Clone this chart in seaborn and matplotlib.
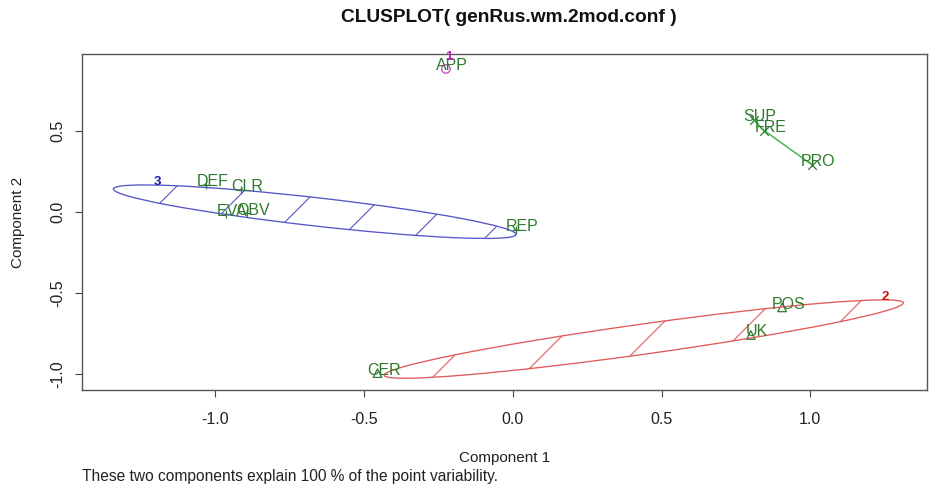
import numpy as np
import pandas as pd
import seaborn as sns
import matplotlib.pyplot as plt
from matplotlib.patches import Ellipse

labels = ["APP", "SUP", "FRE", "PRO", "DEF", "CLR", "EVA", "OBV", "REP", "CER", "UK", "POS"]
comp1 = [-0.225, 0.81, 0.845, 1.005, -1.03, -0.915, -0.965, -0.895, 0.01, -0.455, 0.80, 0.905]
comp2 = [0.88, 0.565, 0.50, 0.29, 0.165, 0.135, -0.015, -0.01, -0.11, -0.995, -0.76, -0.59]
cluster = [1, 4, 4, 4, 3, 3, 3, 3, 3, 2, 2, 2]

# cluster ellipses in data units
ell_cluster = [3, 2]
ell_cx = [-0.666, 0.44]
ell_cy = [0.0, -0.785]
ell_a = [0.691, 0.9005]
ell_b = [0.086, 0.091]
ell_angle = [-11.85, 14.47]

# cluster number labels
clus_text = ["3", "2", "1"]
clus_x = [-1.195, 1.252, -0.215]
clus_y = [0.183, -0.526, 0.955]

x_ticks = [-1.0, -0.5, 0.0, 0.5, 1.0]
y_ticks = [-1.0, -0.5, 0.0, 0.5]

df = pd.DataFrame({"label": labels, "comp1": comp1, "comp2": comp2, "cluster": cluster})

# ========== STYLE ==========
sns.set_theme(style="white")
plt.rcParams["font.family"] = ["Liberation Sans", "DejaVu Sans"]

W, H = 935, 493
pt_green = "#2f7a2f"
clus_col = {1: "#d03cd0", 2: "#e05a5a", 3: "#5555c8", 4: "#33b533"}
lab_col = {1: "#c020c0", 2: "#cc1010", 3: "#1a1aa0", 4: "#2a9a2a"}
markers = {1: "o", 2: "^", 3: "+", 4: "x"}
hatch = {3: (363, 760, 72), 2: (810, 1200, 88)}  # pixel diagonals x+y

fig = plt.figure(figsize=(W / 100, H / 100), dpi=100)
ax = fig.add_axes([82 / W, 1 - 390 / H, 845 / W, 336 / H])
ax.set_xlim(-1.448, 1.392)
ax.set_ylim(-1.099, 0.972)

# points
for k in sorted(df["cluster"].unique()):
    sub = df[df["cluster"] == k]
    mk = markers[k]
    col = clus_col[1] if k == 1 else pt_green
    if mk in ("o", "^"):
        sns.scatterplot(data=sub, x="comp1", y="comp2", marker=mk, s=38,
                        facecolors="none", edgecolor=col, linewidth=0.9, ax=ax)
    else:
        sns.scatterplot(data=sub, x="comp1", y="comp2", marker=mk, s=38,
                        color=col, linewidth=0.9, ax=ax)

# cluster 4 collapses to a segment
seg = df[df["cluster"] == 4].sort_values("comp1")
sns.lineplot(data=seg, x="comp1", y="comp2", sort=True, estimator=None,
             color=clus_col[4], linewidth=1.0, ax=ax)

# ellipses with sparse diagonal shading
for k, cx, cy, a, b, ang in zip(ell_cluster, ell_cx, ell_cy, ell_a, ell_b, ell_angle):
    e = Ellipse((cx, cy), 2 * a, 2 * b, angle=ang, fill=False,
                edgecolor=clus_col[k], linewidth=0.95)
    ax.add_patch(e)
    inv = ax.transData.inverted()
    for c in np.arange(*hatch[k]):
        p = inv.transform([(c - 400, H - 400), (c, H)])
        ln, = ax.plot(p[:, 0], p[:, 1], color=clus_col[k], linewidth=0.8)
        ln.set_clip_path(e)

# labels
for _, r in df.iterrows():
    ax.annotate(r["label"], (r["comp1"], r["comp2"]), xytext=(4.5, 2.2),
                textcoords="offset points", ha="center", va="center",
                fontsize=11.5, color=pt_green)

for t, x, y, k in zip(clus_text, clus_x, clus_y, [3, 2, 1]):
    ax.text(x, y, t, color=lab_col[k], fontsize=9.5, fontweight="bold",
            ha="center", va="center", clip_on=False)

# axes in R style
ax.set_xticks(x_ticks)
ax.set_xticklabels([f"{v:.1f}" for v in x_ticks])
ax.set_yticks(y_ticks)
ax.set_yticklabels([f"{v:.1f}" for v in y_ticks], rotation=90, va="center")
ax.tick_params(axis="both", direction="out", length=5, width=0.8, color="#444444",
               labelsize=11.5, labelcolor="#222222", bottom=True, left=True)
ax.tick_params(axis="x", pad=11)
ax.tick_params(axis="y", pad=7)
for s in ax.spines.values():
    s.set_color("#555555")
    s.set_linewidth(1.0)
    s.set_visible(True)
ax.grid(False)

ax.set_xlabel("Component 1", fontsize=11, color="#222222")
ax.set_ylabel("Component 2", fontsize=11, color="#222222")
ax.xaxis.set_label_coords(0.5, -0.2024)
ax.xaxis.label.set_va("center")
ax.yaxis.set_label_coords(-0.0757, 0.5)
ax.yaxis.label.set_va("center")

fig.text(509 / W, 1 - 17 / H, "CLUSPLOT( genRus.wm.2mod.conf )", ha="center",
         va="center", fontsize=13.8, fontweight="bold", color="#111111")
fig.text(82 / W, 1 - 477 / H, "These two components explain 100 % of the point variability.",
         ha="left", va="center", fontsize=11.2, color="#222222")

fig.savefig("out.png", dpi=100)
